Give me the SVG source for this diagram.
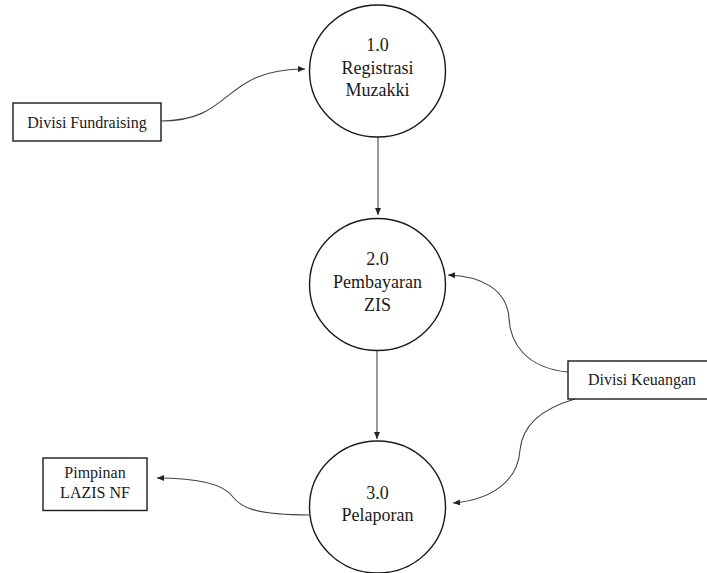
<svg xmlns="http://www.w3.org/2000/svg" width="707" height="573" viewBox="0 0 707 573">
<defs>
<marker id="arr" markerWidth="8" markerHeight="8" refX="7" refY="4" orient="auto" markerUnits="userSpaceOnUse">
<path d="M0,1 L7,4 L0,7 Z" fill="#222"/>
</marker>
<style>
.proc{fill:#fff;stroke:#1a1a1a;stroke-width:1.4}
.ent{fill:#fff;stroke:#1a1a1a;stroke-width:1.4}
text{font-family:'Liberation Serif',serif;fill:#1a1a1a;text-anchor:middle}
.tp{font-size:18px}
.te{font-size:16px}
.c{fill:none;stroke:#444;stroke-width:1.1;marker-end:url(#arr)}
</style>
</defs>
<rect width="707" height="573" fill="#fff"/>
<g id="connectors">
<path class="c" d="M161,121 C235,121 220,69 305,69"/>
<path class="c" d="M378,137 L378,215"/>
<path class="c" d="M377,351 L377,439"/>
<path class="c" d="M568,372 C525,368 510,342 509,318 C507,290 482,276 448,275"/>
<path class="c" d="M575,399 C537,410 522,428 520,450 C518,482 490,500 453,503"/>
<path class="c" d="M309,515 C252,515 240,506 233,497 C224,484 200,478 157,478"/>
</g>
<g id="p1" font-family="Liberation Serif, serif">
<ellipse class="proc" cx="377.5" cy="71" rx="68" ry="66"/>
<text class="tp" x="377.5" y="51" font-family="Liberation Serif, serif">1.0</text>
<text class="tp" x="377.5" y="74" font-family="Liberation Serif, serif">Registrasi</text>
<text class="tp" x="377.5" y="96" font-family="Liberation Serif, serif">Muzakki</text>
</g>
<g id="p2" font-family="Liberation Serif, serif">
<ellipse class="proc" cx="377.5" cy="284.5" rx="68" ry="66"/>
<text class="tp" x="377.5" y="265" font-family="Liberation Serif, serif">2.0</text>
<text class="tp" x="377.5" y="288" font-family="Liberation Serif, serif">Pembayaran</text>
<text class="tp" x="377.5" y="311" font-family="Liberation Serif, serif">ZIS</text>
</g>
<g id="p3" font-family="Liberation Serif, serif">
<ellipse class="proc" cx="377.5" cy="507" rx="68" ry="66"/>
<text class="tp" x="377.5" y="499" font-family="Liberation Serif, serif">3.0</text>
<text class="tp" x="377.5" y="521" font-family="Liberation Serif, serif">Pelaporan</text>
</g>
<g id="e-fundraising" font-family="Liberation Serif, serif">
<rect class="ent" x="13" y="103" width="148" height="38"/>
<text class="te" x="87" y="127.5" font-family="Liberation Serif, serif">Divisi Fundraising</text>
</g>
<g id="e-keuangan" font-family="Liberation Serif, serif">
<rect class="ent" x="568" y="361" width="148" height="38"/>
<text class="te" x="642" y="384.5" font-family="Liberation Serif, serif">Divisi Keuangan</text>
</g>
<g id="e-pimpinan" font-family="Liberation Serif, serif">
<rect class="ent" x="43" y="458" width="104" height="52.5"/>
<text class="te" x="95" y="477.5" font-family="Liberation Serif, serif">Pimpinan</text>
<text class="te" x="95" y="497.5" font-family="Liberation Serif, serif">LAZIS NF</text>
</g>
</svg>
